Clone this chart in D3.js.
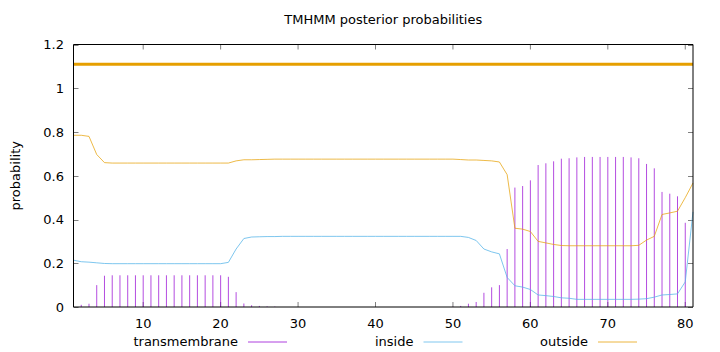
<!DOCTYPE html>
<html>
<head>
<meta charset="utf-8">
<script src="https://cdn.jsdelivr.net/npm/d3@7/dist/d3.min.js"></script>
<style>
body { margin: 0; background: #fff; }
svg text { font-family: "DejaVu Sans", sans-serif; fill: #000; }
</style>
</head>
<body>
<div id="chart"></div>
<script>
// sequence positions 1..81
const positions = d3.range(1, 82);

const transmembrane = [
  0.001, 0.010, 0.015, 0.100, 0.143, 0.145, 0.145, 0.145, 0.145, 0.145,
  0.145, 0.145, 0.145, 0.145, 0.145, 0.145, 0.145, 0.145, 0.145, 0.145,
  0.138, 0.068, 0.016, 0.008, 0.005, 0.003, 0.002, 0.000, 0.000, 0.000,
  0.000, 0.000, 0.000, 0.000, 0.000, 0.000, 0.000, 0.000, 0.000, 0.000,
  0.000, 0.000, 0.000, 0.000, 0.000, 0.000, 0.000, 0.000, 0.000, 0.001,
  0.005, 0.015, 0.023, 0.065, 0.090, 0.100, 0.265, 0.546, 0.553, 0.579,
  0.649, 0.657, 0.666, 0.678, 0.680, 0.684, 0.686, 0.686, 0.686, 0.686,
  0.686, 0.686, 0.684, 0.680, 0.654, 0.634, 0.526, 0.518, 0.506, 0.385,
  0.000
];

const inside = [
  0.214, 0.207, 0.205, 0.202, 0.199, 0.198, 0.198, 0.198, 0.198, 0.198,
  0.198, 0.198, 0.198, 0.198, 0.198, 0.198, 0.198, 0.198, 0.198, 0.198,
  0.204, 0.265, 0.313, 0.320, 0.321, 0.322, 0.322, 0.323, 0.323, 0.323,
  0.323, 0.323, 0.323, 0.323, 0.323, 0.323, 0.323, 0.323, 0.323, 0.323,
  0.323, 0.323, 0.323, 0.323, 0.323, 0.323, 0.323, 0.323, 0.323, 0.323,
  0.323, 0.318, 0.304, 0.265, 0.252, 0.243, 0.135, 0.097, 0.091, 0.080,
  0.055, 0.052, 0.048, 0.042, 0.040, 0.035, 0.035, 0.035, 0.035, 0.035,
  0.035, 0.035, 0.035, 0.036, 0.038, 0.045, 0.055, 0.057, 0.060, 0.115,
  0.435
];

const outside = [
  0.785, 0.785, 0.780, 0.697, 0.660, 0.658, 0.658, 0.658, 0.658, 0.658,
  0.658, 0.658, 0.658, 0.658, 0.658, 0.658, 0.658, 0.658, 0.658, 0.658,
  0.658, 0.668, 0.673, 0.673, 0.674, 0.675, 0.676, 0.676, 0.676, 0.676,
  0.676, 0.676, 0.676, 0.676, 0.676, 0.676, 0.676, 0.676, 0.676, 0.676,
  0.676, 0.676, 0.676, 0.676, 0.676, 0.676, 0.676, 0.676, 0.676, 0.676,
  0.674, 0.672, 0.672, 0.670, 0.668, 0.663, 0.605, 0.360, 0.356, 0.345,
  0.300, 0.293, 0.286, 0.281, 0.280, 0.280, 0.280, 0.280, 0.280, 0.280,
  0.280, 0.280, 0.280, 0.282, 0.306, 0.323, 0.423, 0.430, 0.438, 0.500,
  0.567
];

// predicted topology drawn above the curves
const topoStart = [1];
const topoEnd = [81];
const topoLevel = 1.11;

const xTicks = [10, 20, 30, 40, 50, 60, 70, 80];
const yTicks = [0, 0.2, 0.4, 0.6, 0.8, 1, 1.2];
const seriesNames = ["transmembrane", "inside", "outside"];
const colors = {transmembrane: "#9400d3", inside: "#56b4e9", outside: "#e69f00"};

const W = 720, H = 352;
const plot = {left: 73.5, right: 693, top: 44.5, bottom: 307};

let svg = d3.select("#chart").append("svg")
  .attr("width", W)
  .attr("height", H);

let x = d3.scaleLinear().domain([1, 81]).range([plot.left, plot.right]);
let y = d3.scaleLinear().domain([0, 1.2]).range([plot.bottom, plot.top]);

// title
svg.append("text")
  .attr("x", (plot.left + plot.right) / 2)
  .attr("y", 24)
  .attr("text-anchor", "middle")
  .attr("font-size", 13)
  .text("TMHMM posterior probabilities");

// y label
svg.append("text")
  .attr("transform", "translate(20," + ((plot.top + plot.bottom) / 2) + ") rotate(-90)")
  .attr("text-anchor", "middle")
  .attr("font-size", 13)
  .text("probability");

// ticks (inward, mirrored)
let ticks = svg.append("g").attr("stroke", "#808080").attr("stroke-width", 1);
yTicks.forEach(function(t) {
  let yy = Math.round(y(t)) + 0.5;
  ticks.append("line").attr("x1", plot.left).attr("x2", plot.left + 5).attr("y1", yy).attr("y2", yy);
  ticks.append("line").attr("x1", plot.right - 5).attr("x2", plot.right).attr("y1", yy).attr("y2", yy);
});
xTicks.forEach(function(t) {
  ticks.append("line").attr("x1", x(t)).attr("x2", x(t)).attr("y1", plot.bottom).attr("y2", plot.bottom - 5);
  ticks.append("line").attr("x1", x(t)).attr("x2", x(t)).attr("y1", plot.top).attr("y2", plot.top + 5);
});

svg.append("g").selectAll("text")
  .data(yTicks)
  .enter().append("text")
  .attr("x", 64)
  .attr("y", function(d) { return y(d) + 4.8; })
  .attr("text-anchor", "end")
  .attr("font-size", 13)
  .text(function(d) { return d3.format("~g")(d); });

svg.append("g").selectAll("text")
  .data(xTicks)
  .enter().append("text")
  .attr("x", function(d) { return x(d); })
  .attr("y", 328)
  .attr("text-anchor", "middle")
  .attr("font-size", 13)
  .text(function(d) { return d; });

// topology line
topoStart.forEach(function(s, i) {
  svg.append("line")
    .attr("x1", x(s)).attr("x2", x(topoEnd[i]))
    .attr("y1", y(topoLevel)).attr("y2", y(topoLevel))
    .attr("stroke", colors.outside)
    .attr("stroke-width", 3);
});

// transmembrane impulses
svg.append("g").selectAll("line")
  .data(positions)
  .enter().append("line")
  .attr("x1", function(d) { return x(d); })
  .attr("x2", function(d) { return x(d); })
  .attr("y1", y(0))
  .attr("y2", function(d, i) { return y(transmembrane[i]); })
  .attr("stroke", colors.transmembrane)
  .attr("stroke-opacity", 0.7)
  .attr("stroke-width", 1);

let line = d3.line()
  .x(function(d) { return x(d[0]); })
  .y(function(d) { return y(d[1]); });

svg.append("path")
  .attr("d", line(positions.map(function(p, i) { return [p, inside[i]]; })))
  .attr("fill", "none")
  .attr("stroke", colors.inside)
  .attr("stroke-opacity", 0.85)
  .attr("stroke-width", 0.9);

svg.append("path")
  .attr("d", line(positions.map(function(p, i) { return [p, outside[i]]; })))
  .attr("fill", "none")
  .attr("stroke", colors.outside)
  .attr("stroke-opacity", 0.8)
  .attr("stroke-width", 0.9);

// border
let border = svg.append("g").attr("stroke", "#000").attr("stroke-width", 1);
border.append("line").attr("x1", plot.left).attr("x2", plot.left).attr("y1", plot.top).attr("y2", plot.bottom);
border.append("line").attr("x1", plot.left).attr("x2", plot.right).attr("y1", plot.top).attr("y2", plot.top);
border.append("line").attr("x1", plot.right).attr("x2", plot.right).attr("y1", plot.top).attr("y2", plot.bottom);
border.append("line").attr("x1", plot.left).attr("x2", plot.right).attr("y1", plot.bottom).attr("y2", plot.bottom);

// legend
const legendRight = [238, 413.5, 588];
seriesNames.forEach(function(name, i) {
  svg.append("text")
    .attr("x", legendRight[i])
    .attr("y", 346)
    .attr("text-anchor", "end")
    .attr("font-size", 13)
    .text(name);
  svg.append("line")
    .attr("x1", legendRight[i] + 10).attr("x2", legendRight[i] + 49)
    .attr("y1", 342).attr("y2", 342)
    .attr("stroke", colors[name])
    .attr("stroke-opacity", 0.75)
    .attr("stroke-width", 1);
});
</script>
</body>
</html>
